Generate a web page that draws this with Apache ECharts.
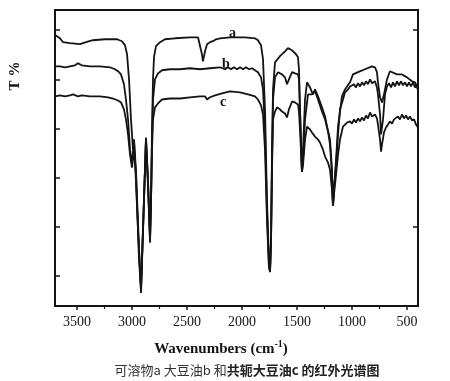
<!DOCTYPE html>
<html><head><meta charset="utf-8">
<script src="https://cdn.jsdelivr.net/npm/echarts@6/dist/echarts.min.js"></script>
<style>html,body{margin:0;padding:0;background:#fff}#c{width:450px;height:381px}</style>
</head><body><div id="c"></div>
<script>
// Tick values
const xTicks = [500, 1000, 1500, 2000, 2500, 3000, 3500];
const xMinorTicks = [750, 1250, 1750, 2250, 2750, 3250];
const yTicks = [0, 20, 40, 60, 80, 100];
const yRightTicks = [20, 100];
const seriesNames = ['a', 'b', 'c'];

// Curve a: soluble matter  [wavenumber, T%]
const curveA = [
[3700,98.0],[3655,96.7],[3627,95.1],[3564,94.7],[3473,94.3],[3418,95.1],[3355,95.9],[3245,96.3],[3136,96.3],[3091,95.5],
[3064,93.9],[3045,90.2],[3027,80.0],[3009,63.7],[2991,51.4],[2982,55.5],[2973,47.3],[2945,18.8],[2918,-6.9],[2891,31.0],
[2873,55.5],[2855,39.2],[2836,13.5],[2827,31.0],[2818,59.6],[2809,80.0],[2800,89.0],[2782,93.5],[2745,95.1],[2700,96.3],
[2609,96.7],[2473,97.1],[2400,97.1],[2382,96.3],[2364,90.2],[2355,87.3],[2336,91.4],[2318,94.3],[2291,95.1],[2264,95.5],
[2236,96.3],[2218,95.5],[2200,96.7],[2109,97.1],[1973,97.1],[1882,96.7],[1855,95.9],[1827,93.9],[1809,88.2],[1791,67.8],
[1773,31.0],[1755,6.5],[1745,1.6],[1736,14.7],[1727,51.4],[1718,75.9],[1700,86.9],[1655,89.4],[1609,91.4],[1582,92.7],
[1545,91.8],[1509,90.2],[1491,89.0],[1482,84.1],[1473,67.8],[1455,42.4],[1445,51.4],[1427,71.8],[1409,78.8],[1382,76.7],
[1355,73.9],[1336,75.9],[1309,73.1],[1273,68.6],[1245,64.9],[1227,60.8],[1200,55.5],[1182,43.3],[1173,28.6],[1164,35.1],
[1145,47.3],[1127,60.8],[1091,73.1],[1064,75.9],[1018,78.8],[991,82.0],[945,82.9],[882,84.1],[818,85.3],[791,84.9],
[773,82.9],[764,78.8],[745,72.7],[727,70.6],[709,73.9],[682,80.0],[655,83.3],[591,82.0],[545,82.0],[500,80.8],
[455,79.2],[427,78.8],[400,75.9]
];

// Curve b: soybean oil
const curveB = [
[3700,85.3],[3655,85.3],[3609,84.9],[3564,85.3],[3518,85.7],[3491,86.5],[3455,85.7],[3382,85.3],[3291,85.3],[3200,84.9],
[3155,84.1],[3127,83.3],[3100,82.0],[3073,78.0],[3055,71.8],[3036,63.7],[3018,51.4],[3000,45.3],[2982,55.5],[2964,43.3],
[2936,10.6],[2918,-4.9],[2891,31.0],[2873,56.3],[2855,39.2],[2836,14.7],[2827,31.0],[2818,55.5],[2809,71.8],[2791,80.0],
[2764,82.4],[2727,83.7],[2655,84.1],[2564,84.1],[2473,84.5],[2382,84.1],[2291,84.5],[2200,84.9],[2155,84.1],[2127,84.9],
[2100,84.1],[2073,84.9],[2045,84.1],[2018,84.9],[1991,84.1],[1964,84.9],[1936,84.1],[1909,84.5],[1882,83.7],[1855,82.9],
[1827,80.8],[1809,75.9],[1791,59.6],[1773,26.9],[1755,4.5],[1745,2.4],[1736,14.7],[1727,47.3],[1718,71.8],[1700,80.8],
[1673,82.9],[1636,82.0],[1609,80.8],[1591,78.0],[1573,80.0],[1545,82.9],[1518,82.4],[1491,82.0],[1482,80.0],[1473,67.8],
[1455,42.4],[1445,47.3],[1427,63.7],[1400,73.9],[1382,74.7],[1364,73.9],[1336,75.1],[1309,71.8],[1273,66.9],[1245,63.7],
[1218,58.8],[1200,53.5],[1182,41.2],[1173,28.6],[1164,35.1],[1145,45.3],[1127,57.6],[1109,67.8],[1082,71.8],[1064,74.7],
[1036,75.9],[1018,77.1],[1000,76.3],[982,78.0],[964,76.7],[945,78.4],[927,77.1],[909,78.8],[891,77.6],[873,79.2],
[855,78.0],[836,80.0],[818,78.4],[791,79.2],[773,76.7],[764,73.9],[745,65.7],[736,57.6],[718,63.7],[700,73.9],
[682,77.1],[664,78.4],[645,76.7],[627,78.8],[609,77.1],[591,79.2],[573,77.6],[555,79.2],[536,77.6],[518,78.8],
[500,77.1],[482,78.8],[464,77.1],[445,78.8],[427,76.7],[409,78.0],[400,75.1]
];

// Curve c: conjugated soybean oil
const curveC = [
[3700,73.1],[3655,73.5],[3609,73.1],[3564,73.5],[3536,73.9],[3518,74.3],[3491,73.1],[3455,73.5],[3382,73.1],[3291,73.1],
[3218,72.7],[3173,72.2],[3127,71.4],[3100,70.6],[3073,67.8],[3055,63.7],[3036,57.6],[3018,49.4],[3000,44.1],[2982,51.4],
[2964,41.2],[2936,6.5],[2918,-5.7],[2891,31.0],[2873,55.5],[2855,37.1],[2836,15.5],[2827,31.0],[2818,51.4],[2809,63.7],
[2791,68.6],[2764,70.2],[2727,71.8],[2655,72.2],[2564,72.2],[2473,72.7],[2382,73.1],[2336,73.1],[2318,71.8],[2309,71.0],
[2291,72.7],[2245,73.5],[2182,74.3],[2109,75.1],[2018,74.7],[1945,73.9],[1882,73.1],[1855,71.8],[1827,69.4],[1809,65.7],
[1791,51.4],[1773,22.9],[1755,3.3],[1745,1.6],[1736,14.7],[1727,43.3],[1718,63.7],[1700,66.9],[1682,68.6],[1655,67.8],
[1636,66.9],[1609,66.1],[1591,64.5],[1573,67.8],[1545,71.0],[1518,70.6],[1491,69.8],[1482,66.9],[1473,59.6],[1455,42.4],
[1445,45.3],[1427,55.5],[1409,60.8],[1382,59.6],[1364,58.4],[1336,56.7],[1309,55.5],[1291,54.3],[1264,51.4],[1245,48.6],
[1218,46.1],[1200,43.3],[1182,35.1],[1173,28.6],[1164,33.1],[1145,41.2],[1127,49.4],[1109,55.5],[1082,60.8],[1064,61.6],
[1045,62.4],[1018,62.9],[1000,62.0],[982,63.7],[964,62.4],[945,64.1],[927,62.9],[909,64.5],[891,63.3],[873,65.3],
[855,64.1],[836,66.5],[818,64.9],[791,65.7],[773,64.1],[764,61.6],[745,55.5],[736,50.6],[727,53.5],[709,58.4],
[691,60.4],[673,61.6],[655,62.9],[636,62.0],[618,63.7],[600,62.9],[582,64.9],[564,63.7],[545,65.7],[527,64.1],
[509,65.3],[491,63.7],[473,64.9],[455,63.3],[436,63.7],[418,61.6],[400,60.4]
];

const X_MIN = 400, X_MAX = 3700, Y_MIN = -12.2, Y_MAX = 108.2;
const serif = 'Liberation Serif';
const ink = '#141414';

const chart = echarts.init(document.getElementById('c'), null, {renderer: 'canvas'});
const lineStyle = {color: ink, width: 1.8};
const option = {
  backgroundColor: '#fff',
  animation: false,
  grid: {left: 55, top: 10, right: 32, bottom: 75, show: true, borderColor: ink, borderWidth: 2, backgroundColor: 'transparent'},
  xAxis: [
    {type: 'value', min: X_MIN, max: X_MAX, inverse: true, position: 'bottom',
     axisLine: {show: false, onZero: false}, splitLine: {show: false},
     axisTick: {show: true, inside: false, length: 4, lineStyle: {color: ink, width: 1.5}, customValues: xTicks},
     axisLabel: {show: true, margin: 9, fontFamily: serif, fontSize: 14, color: ink, customValues: xTicks,
                 formatter: v => String(v)}},
    {type: 'value', min: X_MIN, max: X_MAX, inverse: true, position: 'bottom',
     axisLine: {show: false, onZero: false}, splitLine: {show: false},
     axisTick: {show: true, inside: false, length: 3, lineStyle: {color: ink, width: 1.2}, customValues: xMinorTicks},
     axisLabel: {show: false}}
  ],
  yAxis: [
    {type: 'value', min: Y_MIN, max: Y_MAX, position: 'left',
     axisLine: {show: false, onZero: false}, splitLine: {show: false},
     axisTick: {show: true, inside: true, length: 5, lineStyle: {color: ink, width: 1.5}, customValues: yTicks},
     axisLabel: {show: false}},
    {type: 'value', min: Y_MIN, max: Y_MAX, position: 'right',
     axisLine: {show: false, onZero: false}, splitLine: {show: false},
     axisTick: {show: true, inside: true, length: 5, lineStyle: {color: ink, width: 1.5}, customValues: yRightTicks},
     axisLabel: {show: false}}
  ],
  series: [curveA, curveB, curveC].map((d, i) => ({
    name: seriesNames[i], type: 'line', data: d, xAxisIndex: 0, yAxisIndex: 0,
    showSymbol: false, symbol: 'none', lineStyle: lineStyle, clip: true
  })),
  graphic: [
    {type: 'text', left: 229, top: 26, style: {text: seriesNames[0], font: 'bold 14px "Liberation Serif"', fill: ink}},
    {type: 'text', left: 222, top: 57, style: {text: seriesNames[1], font: 'bold 14px "Liberation Serif"', fill: ink}},
    {type: 'text', left: 220, top: 95, style: {text: seriesNames[2], font: 'bold 14px "Liberation Serif"', fill: ink}},
    {type: 'text', x: 15, y: 76, rotation: Math.PI / 2,
     style: {text: 'T %', font: 'bold 15px "Liberation Serif"', fill: ink, align: 'center', verticalAlign: 'middle'}},
    {type: 'text', x: 221, y: 348,
     style: {text: '{n|Wavenumbers (cm}{s|-1}{n|)}', align: 'center', verticalAlign: 'middle', fill: ink,
       rich: {n: {fontFamily: serif, fontWeight: 'bold', fontSize: 15, fill: ink, lineHeight: 18, verticalAlign: 'bottom'},
              s: {fontFamily: serif, fontWeight: 'bold', fontSize: 10, fill: ink, lineHeight: 18, verticalAlign: 'top'}}}},
    {type: 'text', x: 247, y: 370,
     style: {text: '{n|可溶物a 大豆油b 和}{b|共轭大豆油c 的红外光谱图}', align: 'center', verticalAlign: 'middle',
       rich: {n: {fontFamily: '"Noto Sans CJK SC"', fontSize: 13, fill: '#333'},
              b: {fontFamily: '"Noto Sans CJK SC"', fontWeight: 'bold', fontSize: 13, fill: '#222'}}}}
  ]
};
chart.setOption(option);
</script>
</body></html>
